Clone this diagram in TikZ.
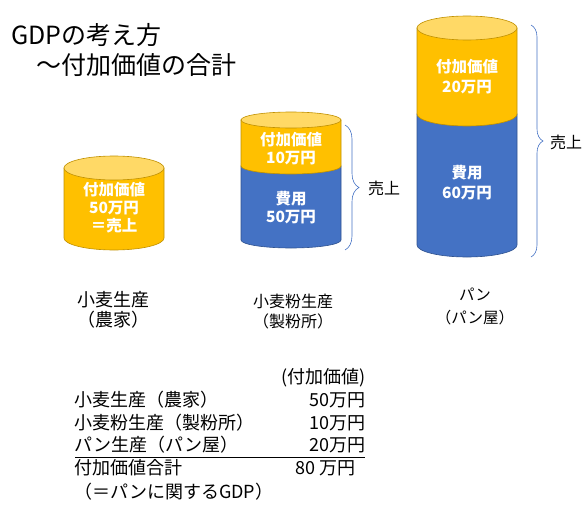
\documentclass[tikz,border=0pt]{standalone}
\usepackage{fontspec}
\setmainfont{Noto Sans CJK JP}
\usepackage{xcolor}
\usepackage{tikz}
\usetikzlibrary{decorations.pathreplacing}

\definecolor{vagold}{HTML}{FFC000}
\definecolor{vatop}{HTML}{FFD966}
\definecolor{vaedge}{HTML}{C09000}
\definecolor{costblue}{HTML}{4472C4}
\definecolor{costedge}{HTML}{2F528F}

\begin{document}
\begin{tikzpicture}[x=1pt,y=-1pt,line width=0.6pt,
  cyltxt/.style={text=white,align=center,font=\fontsize{15.5}{19}\selectfont\bfseries},
  lab/.style={align=center,inner sep=0pt},
  tab/.style={inner sep=0pt,font=\fontsize{18}{21}\selectfont},
  salesbrace/.style={draw=costblue,decorate,decoration={brace,amplitude=#1}}]
  \useasboundingbox (0,0) rectangle (583,527);
  % Title
  \node[anchor=west,inner sep=0pt,font=\fontsize{25}{30}\selectfont] (title1) at (11,35) {GDPの考え方};
  \node[anchor=west,inner sep=0pt,font=\fontsize{25}{30}\selectfont] (title2) at (36,65) {～付加価値の合計};
  % Farmer: one cylinder, all value added
  \draw[draw=vaedge,fill=vagold] (64,168) -- (64,238) arc[start angle=180,end angle=0,x radius=50,y radius=12] -- (164,168) -- cycle;
  \draw[draw=vaedge,fill=vatop] (114,168) ellipse[x radius=50,y radius=12];
  \node[cyltxt,font=\fontsize{15.5}{18}\selectfont\bfseries] (va1) at (114,208) {付加価値\\50万円\\＝売上};
  % Mill and bakery: cost (blue) below, value added (gold) on top
  \foreach \c/\t/\m/\b/\r in {291/120/166/240/8, 467/28/114/245/12} {
    \draw[draw=costedge,fill=costblue] (\c-50,\m) -- (\c-50,\b) arc[start angle=180,end angle=0,x radius=50,y radius=\r] -- (\c+50,\m) -- cycle;
    \draw[draw=vaedge,fill=vagold] (\c-50,\t) -- (\c-50,\m) arc[start angle=180,end angle=0,x radius=50,y radius=\r] -- (\c+50,\t) -- cycle;
    \draw[draw=vaedge,fill=vatop] (\c,\t) ellipse[x radius=50,y radius=\r];
  }
  \node[cyltxt,font=\fontsize{15.5}{18}\selectfont\bfseries] (va2) at (291,149) {付加価値\\10万円};
  \node[cyltxt,font=\fontsize{15.5}{18}\selectfont\bfseries] (cost2) at (291,208) {費用\\50万円};
  \node[cyltxt,font=\fontsize{15.5}{20}\selectfont\bfseries] (va3) at (467,77) {付加価値\\20万円};
  \node[cyltxt,font=\fontsize{15.5}{20}\selectfont\bfseries] (cost3) at (467,183) {費用\\60万円};
  % Sales braces
  \coordinate (b2top) at (345,125);
  \coordinate (b2bot) at (345,250);
  \coordinate (b3top) at (531,25);
  \coordinate (b3bot) at (531,257);
  \draw[salesbrace=14] (b2top) -- (b2bot);
  \draw[salesbrace=12] (b3top) -- (b3bot);
  \node[inner sep=0pt,font=\fontsize{16}{19}\selectfont] (sales2) at (384,188) {売上};
  \node[inner sep=0pt,font=\fontsize{16}{19}\selectfont] (sales3) at (566,142) {売上};
  % Producer labels
  \node[lab,font=\fontsize{18}{20}\selectfont] (farm) at (113,310) {小麦生産\\（農家）};
  \node[lab,font=\fontsize{16}{20}\selectfont] (mill) at (293,312) {小麦粉生産\\（製粉所）};
  \node[lab,font=\fontsize{15.5}{23}\selectfont] (bakery) at (475,306) {パン\\（パン屋）};
  % Table of value added
  \node[tab,anchor=east] (hdr) at (366,378) {(付加価値)};
  \node[tab,anchor=west] (row1) at (74,400) {小麦生産（農家）};
  \node[tab,anchor=east] (val1) at (366,400) {50万円};
  \node[tab,anchor=west] (row2) at (74,423) {小麦粉生産（製粉所）};
  \node[tab,anchor=east] (val2) at (366,423) {10万円};
  \node[tab,anchor=west] (row3) at (74,445) {パン生産（パン屋）};
  \node[tab,anchor=east] (val3) at (366,445) {20万円};
  \draw[line width=0.8pt] (75,457) -- (365,457);
  \node[tab,anchor=west] (total) at (74,468) {付加価値合計};
  \node[tab,anchor=east] (totval) at (356,468) {80 万円};
  \node[tab,anchor=west] (gdp) at (74,492) {（＝パンに関するGDP）};
\end{tikzpicture}
\end{document}
